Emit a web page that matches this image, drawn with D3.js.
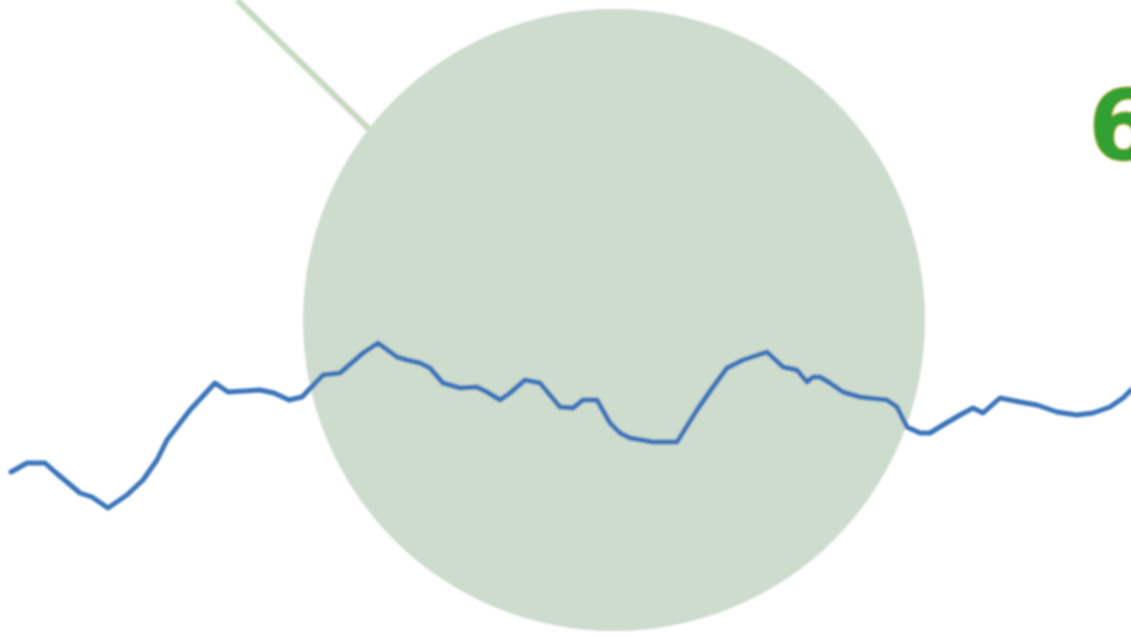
<!DOCTYPE html>
<html><head><meta charset="utf-8">
<script src="https://cdn.jsdelivr.net/npm/d3@7"></script>
<style>html,body{margin:0;padding:0;background:#fff;overflow:hidden}</style>
</head><body>
<svg id="chart" width="1131" height="637"></svg>
<script>
// series: time (x) and value (y)
const times = [1.1,2.7,4.5,5.5,8.0,9.2,10.8,12.7,14.3,15.7,16.7,19.0,21.5,22.8,26.0,27.4,28.9,30.2,32.3,34.0,36.3,37.8,39.7,40.7,42.0,43.0,44.3,46.0,47.7,48.7,50.0,51.0,52.5,54.0,56.0,57.3,58.3,59.7,61.0,62.0,63.0,65.3,67.7,69.7,71.3,72.7,74.3,76.7,78.3,79.7,80.7,81.3,82.0,83.0,84.3,86.0,88.7,89.7,90.7,92.0,93.0,94.3,96.0,97.3,98.3,100.0,102.0,103.7,105.7,107.7,109.3,111.0,112.3,113.1];
const values = [16.5,17.4,17.4,16.5,14.4,14.0,12.9,14.2,15.7,17.7,19.7,22.7,25.4,24.5,24.7,24.4,23.7,24.0,26.2,26.4,28.4,29.4,28.0,27.7,27.4,26.9,25.4,24.9,25.0,24.5,23.7,24.4,25.7,25.4,23.0,22.9,23.7,23.7,21.4,20.4,19.9,19.5,19.5,22.7,25.0,26.9,27.7,28.5,27.0,26.7,25.5,26.0,26.0,25.4,24.5,24.0,23.7,23.0,21.0,20.4,20.4,21.2,22.2,22.9,22.4,23.9,23.5,23.2,22.5,22.2,22.4,23.0,23.9,24.7];
// highlight bubble and its leader line (data units)
const bubble = {t: 61.4, v: 31.7, r: 31.1};
const leader = [[23.7, 63.7], [37.0, 50.7]];
const labelText = ["6"];
const labelPos = [[108.8, 47.7]];

const W = 1131, H = 637;
const svg = d3.select("#chart");
const x = d3.scaleLinear().domain([0, 113.1]).range([0, W]);
const y = d3.scaleLinear().domain([0, 63.7]).range([H, 0]);

const defs = svg.append("defs");
defs.append("filter").attr("id","soft").attr("x","-5%").attr("y","-5%").attr("width","110%").attr("height","110%")
  .append("feGaussianBlur").attr("stdDeviation", 1.2);

const g = svg.append("g").attr("filter","url(#soft)");

g.append("line")
  .attr("x1", x(leader[0][0])).attr("y1", y(leader[0][1]))
  .attr("x2", x(leader[1][0])).attr("y2", y(leader[1][1]))
  .attr("stroke", "#c8dac4").attr("stroke-width", 6);

g.append("circle")
  .attr("cx", x(bubble.t)).attr("cy", y(bubble.v))
  .attr("r", x(bubble.r) - x(0))
  .attr("fill", "#cddccc");

const line = d3.line().x((d,i)=>x(times[i])).y((d,i)=>y(values[i]));
g.append("path").datum(values)
  .attr("d", line)
  .attr("fill","none").attr("stroke","#3a75ba").attr("stroke-width",5)
  .attr("stroke-linejoin","round").attr("stroke-linecap","round");

g.selectAll("text.lbl").data(labelText).join("text")
  .attr("class","lbl")
  .attr("x",(d,i)=>x(labelPos[i][0])).attr("y",(d,i)=>y(labelPos[i][1]))
  .attr("font-family","DejaVu Sans, sans-serif").attr("font-weight","bold")
  .attr("font-size", 98)
  .attr("fill","#32a032").attr("stroke","#d8bc50").attr("stroke-width",1.5)
  .attr("paint-order","stroke")
  .text(d=>d);
</script>
</body></html>
